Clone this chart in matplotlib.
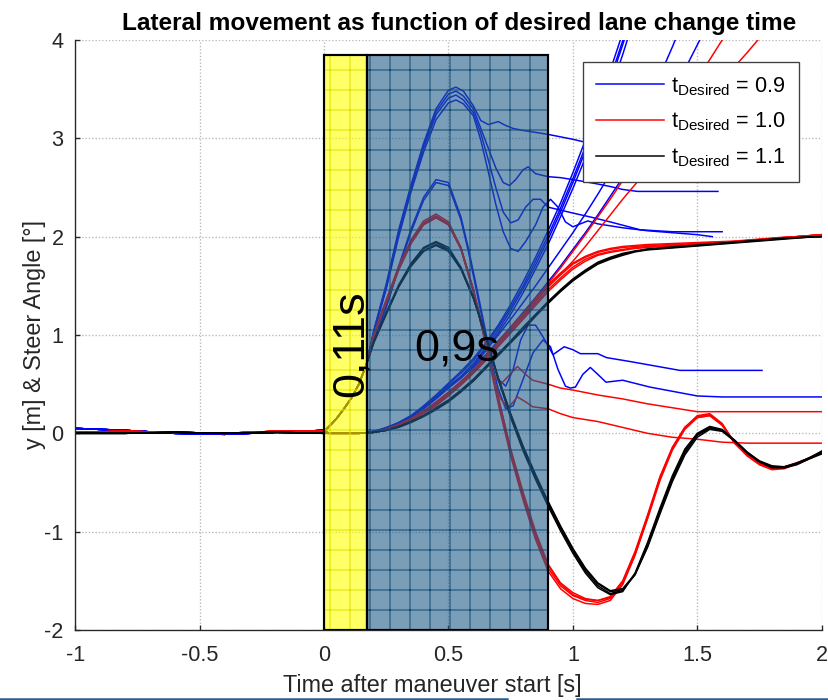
import matplotlib
matplotlib.use("Agg")
import matplotlib.pyplot as plt
from matplotlib.patches import Rectangle
from matplotlib.lines import Line2D

plt.rcParams['font.family'] = ['Liberation Sans', 'DejaVu Sans']
plt.rcParams['hatch.linewidth'] = 0.6
plt.rcParams['axes.unicode_minus'] = False

# ---------------- data ----------------
# shared time axes
pre_t = [-1.0, -0.8, -0.6, -0.4, -0.2, 0.0]
rise_t = [0.02, 0.05, 0.08, 0.11, 0.14, 0.17]
t_main = [0.2, 0.25, 0.3, 0.35, 0.4, 0.45, 0.5, 0.55, 0.6, 0.65,
          0.7, 0.75, 0.8, 0.85, 0.9, 0.95, 1.0, 1.05, 1.1, 1.15,
          1.2, 1.25, 1.3, 1.35, 1.4, 1.45, 1.5, 1.55, 1.6, 1.65,
          1.7, 1.75, 1.8, 1.85, 1.9, 1.95, 2.0]

# pre-maneuver values
pre_blue = [0.05, 0.03, 0.0, -0.01, 0.01, 0.03]
pre_red = [0.01, 0.02, 0.01, 0.0, 0.02, 0.02]
pre_black = [0.0, 0.0, 0.01, 0.0, 0.01, 0.0]
# steer angle rise inside the reaction phase / lateral offset there
steer_rise = [0.07, 0.15, 0.25, 0.36, 0.5, 0.7]
lat_rise = [0.0, 0.0, 0.0, 0.0, 0.0, 0.005]

# t_Desired = 1.1 (black)
black_steer = [
    [0.93, 1.22, 1.5, 1.72, 1.88, 1.94, 1.87, 1.68, 1.38, 0.98, 0.55, 0.17, -0.16, -0.45, -0.72, -0.97, -1.2, -1.4, -1.55, -1.63,
     -1.6, -1.43, -1.13, -0.78, -0.45, -0.18, -0.01, 0.06, 0.03, -0.08, -0.2, -0.29, -0.34, -0.34, -0.3, -0.25, -0.19],
    [0.92, 1.21, 1.49, 1.71, 1.86, 1.92, 1.86, 1.67, 1.37, 0.98, 0.56, 0.19, -0.14, -0.43, -0.7, -0.95, -1.18, -1.38, -1.53, -1.61,
     -1.59, -1.44, -1.15, -0.8, -0.47, -0.2, -0.02, 0.05, 0.03, -0.07, -0.19, -0.28, -0.33, -0.34, -0.31, -0.26, -0.2],
    [0.94, 1.23, 1.51, 1.73, 1.89, 1.95, 1.89, 1.69, 1.39, 0.99, 0.55, 0.16, -0.18, -0.47, -0.74, -0.99, -1.22, -1.42, -1.57, -1.64,
     -1.61, -1.42, -1.11, -0.76, -0.43, -0.16, 0.0, 0.07, 0.04, -0.07, -0.19, -0.29, -0.35, -0.35, -0.31, -0.25, -0.18],
    [0.93, 1.22, 1.49, 1.7, 1.85, 1.91, 1.85, 1.67, 1.38, 0.99, 0.57, 0.2, -0.13, -0.42, -0.69, -0.94, -1.17, -1.37, -1.52, -1.6,
     -1.58, -1.43, -1.16, -0.82, -0.49, -0.22, -0.04, 0.04, 0.02, -0.08, -0.2, -0.29, -0.34, -0.35, -0.32, -0.26, -0.21],
]
black_lat = [
    [0.01, 0.03, 0.07, 0.12, 0.18, 0.25, 0.33, 0.43, 0.54, 0.67, 0.8, 0.93, 1.06, 1.2, 1.33, 1.45, 1.56, 1.65, 1.73, 1.78,
     1.82, 1.85, 1.87, 1.88, 1.89, 1.9, 1.91, 1.92, 1.93, 1.94, 1.95, 1.96, 1.97, 1.98, 1.99, 1.995, 2.0],
    [0.01, 0.03, 0.07, 0.12, 0.18, 0.26, 0.34, 0.44, 0.55, 0.68, 0.81, 0.94, 1.08, 1.21, 1.34, 1.46, 1.57, 1.66, 1.74, 1.79,
     1.83, 1.855, 1.875, 1.885, 1.895, 1.905, 1.915, 1.925, 1.935, 1.945, 1.955, 1.965, 1.975, 1.985, 1.99, 1.995, 2.0],
    [0.01, 0.03, 0.06, 0.11, 0.17, 0.24, 0.32, 0.42, 0.53, 0.66, 0.79, 0.92, 1.05, 1.19, 1.32, 1.44, 1.55, 1.64, 1.72, 1.77,
     1.81, 1.845, 1.865, 1.875, 1.885, 1.895, 1.905, 1.915, 1.925, 1.935, 1.945, 1.955, 1.965, 1.975, 1.985, 1.995, 2.0],
]

# t_Desired = 1.0 (red)
red_steer = [
    [1.0, 1.35, 1.68, 1.95, 2.14, 2.21, 2.13, 1.88, 1.45, 0.92, 0.33, -0.2, -0.65, -1.05, -1.37, -1.55, -1.65, -1.7, -1.72, -1.68,
     -1.52, -1.22, -0.85, -0.45, -0.15, 0.06, 0.17, 0.19, 0.09, -0.1, -0.22, -0.31, -0.36, -0.35, -0.31, -0.25, -0.19],
    [0.99, 1.33, 1.66, 1.93, 2.12, 2.19, 2.12, 1.88, 1.46, 0.94, 0.36, -0.17, -0.62, -1.02, -1.34, -1.53, -1.64, -1.69, -1.7, -1.66,
     -1.5, -1.2, -0.83, -0.44, -0.14, 0.06, 0.16, 0.18, 0.08, -0.1, -0.22, -0.31, -0.36, -0.35, -0.31, -0.25, -0.19],
    [1.01, 1.36, 1.7, 1.97, 2.16, 2.23, 2.15, 1.89, 1.44, 0.9, 0.3, -0.23, -0.68, -1.08, -1.4, -1.58, -1.68, -1.73, -1.74, -1.7,
     -1.54, -1.24, -0.86, -0.46, -0.15, 0.06, 0.18, 0.2, 0.1, -0.1, -0.23, -0.32, -0.37, -0.36, -0.31, -0.25, -0.19],
    [1.0, 1.34, 1.67, 1.94, 2.13, 2.2, 2.13, 1.89, 1.47, 0.95, 0.37, -0.16, -0.6, -1.0, -1.33, -1.52, -1.62, -1.68, -1.7, -1.67,
     -1.52, -1.23, -0.87, -0.48, -0.17, 0.04, 0.16, 0.18, 0.09, -0.09, -0.21, -0.3, -0.35, -0.34, -0.3, -0.25, -0.19],
]
red_lat = [
    [0.01, 0.04, 0.08, 0.14, 0.21, 0.29, 0.39, 0.5, 0.62, 0.75, 0.89, 1.03, 1.17, 1.32, 1.46, 1.58, 1.69, 1.77, 1.82, 1.85,
     1.87, 1.89, 1.9, 1.905, 1.91, 1.92, 1.93, 1.935, 1.94, 1.95, 1.96, 1.97, 1.98, 1.99, 2.0, 2.01, 2.02],
    [0.01, 0.04, 0.08, 0.14, 0.21, 0.3, 0.4, 0.51, 0.63, 0.77, 0.91, 1.05, 1.2, 1.35, 1.49, 1.61, 1.72, 1.79, 1.84, 1.87,
     1.89, 1.9, 1.91, 1.915, 1.92, 1.925, 1.93, 1.94, 1.945, 1.95, 1.96, 1.97, 1.98, 1.99, 2.0, 2.01, 2.02],
    [0.01, 0.03, 0.07, 0.13, 0.2, 0.28, 0.38, 0.49, 0.61, 0.74, 0.88, 1.02, 1.16, 1.3, 1.44, 1.56, 1.67, 1.75, 1.81, 1.84,
     1.86, 1.88, 1.89, 1.9, 1.905, 1.915, 1.925, 1.93, 1.94, 1.95, 1.96, 1.97, 1.98, 1.99, 2.0, 2.01, 2.02],
    [0.01, 0.04, 0.09, 0.15, 0.22, 0.31, 0.41, 0.52, 0.64, 0.78, 0.92, 1.07, 1.22, 1.37, 1.51, 1.63, 1.73, 1.8, 1.85, 1.88,
     1.9, 1.91, 1.92, 1.925, 1.93, 1.935, 1.94, 1.945, 1.95, 1.955, 1.965, 1.975, 1.985, 1.995, 2.0, 2.01, 2.02],
]
# red runs that do not settle
red_div_lat_a = [0.01, 0.04, 0.09, 0.15, 0.23, 0.32, 0.42, 0.53, 0.65, 0.78, 0.93, 1.08, 1.22, 1.37, 1.52, 1.68, 1.85, 2.02,
                 2.2, 2.38, 2.57, 2.75, 2.93, 3.1, 3.27, 3.44, 3.61, 3.8, 4.0, 4.2]
red_div_lat_b = [0.01, 0.04, 0.09, 0.15, 0.22, 0.31, 0.41, 0.52, 0.64, 0.77, 0.91, 1.05, 1.19, 1.34, 1.49, 1.62, 1.75, 1.9,
                 2.06, 2.22, 2.38, 2.53, 2.68, 2.84, 3.0, 3.15, 3.3, 3.45, 3.6, 3.73, 3.87, 4.02, 4.2]
red_div_steer_a_t = [0.2, 0.25, 0.3, 0.35, 0.4, 0.45, 0.5, 0.55, 0.6, 0.65, 0.68, 0.71, 0.74, 0.777, 0.81, 0.838,
                     0.9, 0.95, 1.0, 1.1, 1.2, 1.3, 1.4, 1.5, 1.6, 2.0]
red_div_steer_a = [1.0, 1.35, 1.68, 1.95, 2.14, 2.21, 2.13, 1.88, 1.45, 0.92, 0.6, 0.5, 0.58, 0.68, 0.6, 0.54,
                   0.5, 0.46, 0.44, 0.39, 0.35, 0.3, 0.26, 0.22, 0.22, 0.22]
red_div_steer_b_t = [0.2, 0.25, 0.3, 0.35, 0.4, 0.45, 0.5, 0.55, 0.6, 0.65, 0.68, 0.71, 0.74, 0.777, 0.81, 0.838,
                     0.9, 0.95, 1.0, 1.1, 1.2, 1.3, 1.4, 1.5, 1.6, 1.7, 2.0]
red_div_steer_b = [0.99, 1.34, 1.67, 1.94, 2.13, 2.2, 2.12, 1.87, 1.44, 0.91, 0.55, 0.35, 0.26, 0.37, 0.32, 0.27,
                   0.25, 0.2, 0.16, 0.12, 0.06, 0.0, -0.04, -0.06, -0.09, -0.1, -0.1]

# t_Desired = 0.9 (blue)
blue_lat = [
    [0.02, 0.05, 0.1, 0.17, 0.26, 0.36, 0.48, 0.58, 0.71, 0.87, 1.05, 1.25, 1.47, 1.71, 1.97, 2.25, 2.55, 2.87, 3.21, 3.57, 3.95, 4.35],
    [0.02, 0.05, 0.11, 0.18, 0.27, 0.38, 0.5, 0.61, 0.74, 0.9, 1.08, 1.28, 1.5, 1.75, 2.01, 2.29, 2.59, 2.91, 3.25, 3.61, 3.99, 4.39],
    [0.02, 0.05, 0.1, 0.16, 0.25, 0.35, 0.46, 0.56, 0.69, 0.85, 1.02, 1.21, 1.43, 1.67, 1.92, 2.2, 2.49, 2.8, 3.13, 3.48, 3.85, 4.25],
    [0.02, 0.06, 0.11, 0.18, 0.28, 0.39, 0.51, 0.63, 0.76, 0.92, 1.1, 1.31, 1.54, 1.79, 2.06, 2.34, 2.65, 2.98, 3.32, 3.69, 4.07, 4.47],
]
blue_lat_thin_a = [0.02, 0.05, 0.1, 0.17, 0.26, 0.36, 0.47, 0.57, 0.68, 0.84, 1.0, 1.16, 1.33, 1.5, 1.68, 1.86, 2.04, 2.23,
                   2.43, 2.64, 2.86, 3.1, 3.36, 3.64, 3.93, 4.24]
blue_lat_thin_b = [0.02, 0.05, 0.1, 0.17, 0.26, 0.36, 0.47, 0.57, 0.67, 0.8, 0.94, 1.08, 1.23, 1.38, 1.54, 1.7, 1.87, 2.04,
                   2.22, 2.41, 2.6, 2.8, 3.01, 3.23, 3.46, 3.7, 3.95, 4.2]

blue_steer_a_t = [0.2, 0.25, 0.3, 0.35, 0.4, 0.45, 0.5, 0.53, 0.56, 0.6, 0.63, 0.66, 0.7, 0.73, 0.76, 0.8, 0.9, 1.0,
                  1.1, 1.2, 1.3, 1.4, 1.5, 1.58]
blue_steer_a = [1.05, 1.52, 2.07, 2.53, 2.95, 3.3, 3.49, 3.52, 3.48, 3.33, 3.18, 3.14, 3.17, 3.13, 3.1, 3.08, 3.04, 2.99,
                2.93, 2.87, 2.82, 2.78, 2.75, 2.74]
blue_steer_b_t = [0.2, 0.25, 0.3, 0.35, 0.4, 0.45, 0.5, 0.53, 0.56, 0.6, 0.63, 0.66, 0.69, 0.72, 0.745, 0.77, 0.8, 0.82,
                  0.85, 0.9, 0.95, 1.0, 1.09, 1.15, 1.2, 1.26, 1.4, 1.583]
blue_steer_b = [1.04, 1.5, 2.05, 2.51, 2.93, 3.27, 3.45, 3.48, 3.43, 3.3, 3.1, 2.9, 2.7, 2.55, 2.52, 2.58, 2.68, 2.71,
                2.64, 2.61, 2.6, 2.58, 2.54, 2.51, 2.48, 2.46, 2.46, 2.46]
blue_steer_c_t = [0.2, 0.25, 0.3, 0.35, 0.4, 0.45, 0.5, 0.53, 0.56, 0.6, 0.63, 0.66, 0.69, 0.72, 0.75, 0.78, 0.81, 0.84,
                  0.87, 0.9, 0.95, 1.0, 1.07, 1.15, 1.27, 1.4, 1.6]
blue_steer_c = [1.03, 1.49, 2.03, 2.49, 2.9, 3.24, 3.41, 3.44, 3.39, 3.26, 3.05, 2.78, 2.5, 2.25, 2.14, 2.17, 2.3, 2.38,
                2.38, 2.3, 2.27, 2.24, 2.2, 2.15, 2.07, 2.05, 2.05]
blue_steer_d_t = [0.2, 0.25, 0.3, 0.35, 0.4, 0.45, 0.5, 0.53, 0.56, 0.6, 0.63, 0.66, 0.69, 0.72, 0.75, 0.78, 0.81, 0.85,
                  0.88, 0.91, 0.94, 0.97, 1.0, 1.03, 1.06, 1.1, 1.2, 1.3, 1.4, 1.5, 1.56]
blue_steer_d = [1.02, 1.47, 2.0, 2.46, 2.86, 3.19, 3.36, 3.39, 3.35, 3.23, 2.98, 2.66, 2.33, 2.05, 1.88, 1.85, 1.95, 2.12,
                2.3, 2.38, 2.3, 2.15, 2.1, 2.13, 2.16, 2.13, 2.09, 2.06, 2.04, 2.02, 2.0]
blue_steer_e_t = [0.2, 0.25, 0.3, 0.35, 0.4, 0.45, 0.5, 0.55, 0.58, 0.62, 0.66, 0.7, 0.73, 0.76, 0.79, 0.82, 0.85, 0.88,
                  0.92, 0.965, 1.0, 1.03, 1.1, 1.135, 1.23, 1.43, 1.76]
blue_steer_e = [0.95, 1.3, 1.7, 2.08, 2.4, 2.58, 2.55, 2.2, 1.88, 1.4, 0.9, 0.55, 0.48, 0.65, 0.95, 1.1, 1.1, 0.98,
                0.8, 0.88, 0.85, 0.81, 0.81, 0.77, 0.73, 0.64, 0.64]
blue_steer_f_t = [0.2, 0.25, 0.3, 0.35, 0.4, 0.45, 0.5, 0.55, 0.58, 0.62, 0.66, 0.7, 0.73, 0.76, 0.8, 0.84, 0.88, 0.91,
                  0.94, 0.97, 0.99, 1.01, 1.04, 1.07, 1.1, 1.133, 1.2, 1.31, 1.5, 1.6, 2.0]
blue_steer_f = [0.94, 1.28, 1.68, 2.05, 2.37, 2.55, 2.52, 2.17, 1.85, 1.36, 0.86, 0.45, 0.25, 0.28, 0.55, 0.82, 0.95, 0.88,
                0.65, 0.48, 0.46, 0.47, 0.6, 0.67, 0.6, 0.52, 0.54, 0.47, 0.38, 0.37, 0.37]

legend_labels = [r'$\mathregular{t_{Desired}}$ = 0.9', r'$\mathregular{t_{Desired}}$ = 1.0',
                 r'$\mathregular{t_{Desired}}$ = 1.1']
x_ticks = [-1, -0.5, 0, 0.5, 1, 1.5, 2]
x_tick_labels = ['-1', '-0.5', '0', '0.5', '1', '1.5', '2']
y_ticks = [-2, -1, 0, 1, 2, 3, 4]
y_tick_labels = ['-2', '-1', '0', '1', '2', '3', '4']
reaction_phase = (0.0, 0.172)
maneuver_phase = (0.172, 0.9)

# ---------------- plot ----------------
fig = plt.figure(figsize=(6.9, 700 / 120), dpi=120)
ax = fig.add_axes([0.0909, 0.1, 0.9015, 0.8429])

LW = 0.9
BLUE, RED, BLACK = '#0000FF', '#FF0000', '#000000'


def steer_line(t, v, pre, color):
    ax.plot(pre_t + rise_t + t, pre + steer_rise + v, color=color, lw=LW, zorder=2)


def lat_line(t, v, pre, color):
    ax.plot(pre_t + rise_t + t, pre + lat_rise + v, color=color, lw=LW, zorder=2)


# blue group
for v in blue_lat:
    lat_line(t_main[:len(v)], v, pre_blue, BLUE)
lat_line(t_main[:len(blue_lat_thin_a)], blue_lat_thin_a, pre_blue, BLUE)
lat_line(t_main[:len(blue_lat_thin_b)], blue_lat_thin_b, pre_blue, BLUE)
for t, v in [(blue_steer_a_t, blue_steer_a), (blue_steer_b_t, blue_steer_b), (blue_steer_c_t, blue_steer_c),
             (blue_steer_d_t, blue_steer_d), (blue_steer_e_t, blue_steer_e), (blue_steer_f_t, blue_steer_f)]:
    steer_line(t, v, pre_blue, BLUE)

# red group
for v in red_lat:
    lat_line(t_main, v, pre_red, RED)
lat_line(t_main[:len(red_div_lat_a)], red_div_lat_a, pre_red, RED)
lat_line(t_main[:len(red_div_lat_b)], red_div_lat_b, pre_red, RED)
for v in red_steer:
    steer_line(t_main, v, pre_red, RED)
steer_line(red_div_steer_a_t, red_div_steer_a, pre_red, RED)
steer_line(red_div_steer_b_t, red_div_steer_b, pre_red, RED)

# black group
for v in black_lat:
    lat_line(t_main, v, pre_black, BLACK)
for v in black_steer:
    steer_line(t_main, v, pre_black, BLACK)

# phase rectangles
top = 3.85
x0, x1 = reaction_phase
ax.add_patch(Rectangle((x0, -2), x1 - x0, top + 2, facecolor='#FFFF00', alpha=0.6, edgecolor='none', zorder=3))
ax.add_patch(Rectangle((x0, -2), x1 - x0, top + 2, fill=False, hatch='+', edgecolor='#E3E300', lw=0, zorder=3.1))
ax.add_patch(Rectangle((x0, -2), x1 - x0, top + 2, fill=False, edgecolor='black', lw=1.3, zorder=3.3))
x0, x1 = maneuver_phase
ax.add_patch(Rectangle((x0, -2), x1 - x0, top + 2, facecolor='#215C8A', alpha=0.6, edgecolor='none', zorder=3))
ax.add_patch(Rectangle((x0, -2), x1 - x0, top + 2, fill=False, hatch='+', edgecolor='#124C78', lw=0, zorder=3.1))
ax.add_patch(Rectangle((x0, -2), x1 - x0, top + 2, fill=False, edgecolor='black', lw=1.3, zorder=3.3))

ax.text(0.157, 0.91, '0,11s', rotation=90, rotation_mode='anchor', ha='center', va='baseline',
        fontsize=27, color='black', zorder=4)
ax.text(0.533, 0.745, '0,9s', ha='center', va='baseline', fontsize=27, color='black', zorder=4)

# axes styling
ax.set_xlim(-1, 2)
ax.set_ylim(-2, 4)
ax.set_xticks(x_ticks)
ax.set_xticklabels(x_tick_labels)
ax.set_yticks(y_ticks)
ax.set_yticklabels(y_tick_labels)
ax.grid(True, color='#b8b8b8', linestyle=(0, (1, 1.5)), lw=0.8, zorder=0)
ax.set_axisbelow(True)
for s in ['top', 'right']:
    ax.spines[s].set_visible(False)
for s in ['left', 'bottom']:
    ax.spines[s].set_color('#262626')
    ax.spines[s].set_linewidth(0.8)
ax.tick_params(direction='in', length=3, width=0.8, colors='#262626', labelsize=13)
ax.tick_params(axis='x', pad=9)
ax.tick_params(axis='y', pad=7)

ax.set_title('Lateral movement as function of desired lane change time', fontsize=14.6,
             fontweight='bold', pad=6, x=0.514)
ax.set_xlabel('Time after maneuver start [s]', fontsize=14, color='#262626', labelpad=5)
ax.xaxis.set_label_coords(0.4786, -0.075)
ax.set_ylabel('y [m] & Steer Angle [°]', fontsize=14, color='#262626', labelpad=-1)

handles = [Line2D([], [], color=BLUE, lw=LW), Line2D([], [], color=RED, lw=LW), Line2D([], [], color=BLACK, lw=LW)]
leg = ax.legend(handles, legend_labels, loc='upper right', bbox_to_anchor=(0.9696, 0.9627),
                borderaxespad=0, fontsize=13, fancybox=False, framealpha=1, edgecolor='#404040',
                handlelength=3.15, labelspacing=0.6, handletextpad=0.32, borderpad=0.6)
leg.get_frame().set_linewidth(0.8)
leg.set_zorder(10)

# window border strip visible at the bottom of the screenshot
fig.add_artist(Line2D([0.0, 0.612], [0.002, 0.002], transform=fig.transFigure, color='#2B5D8C', lw=1.5))
fig.add_artist(Line2D([0.697, 1.0], [0.002, 0.002], transform=fig.transFigure, color='#2B5D8C', lw=1.5))

fig.savefig('out.png', dpi=120)
